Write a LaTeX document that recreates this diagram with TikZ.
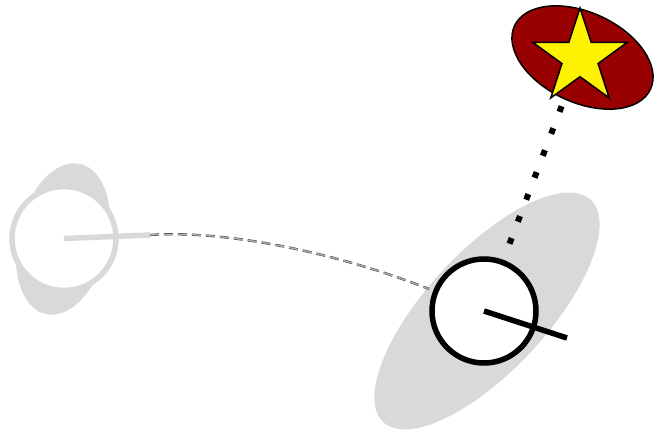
\documentclass[tikz,border=0pt]{standalone}
\usetikzlibrary{shapes.geometric}

\definecolor{blobgray}{RGB}{217,217,217}
\definecolor{darkred}{RGB}{153,0,0}

\tikzset{every picture/.style={line width=0.75pt}}
\tikzset{
  robot/.style={circle, draw, fill=white, inner sep=0pt, minimum size=104pt, line width=5.5pt},
  heading/.style={line width=5.5pt},
  track/.style={draw=black!80, line width=0.45pt, double=blobgray!80!black, double distance=1.4pt, dash pattern=on 9pt off 5pt},
  sight/.style={line width=6pt, dash pattern=on 6pt off 17.5pt, dash phase=22pt}
}

\begin{document}
\begin{tikzpicture}[x=1pt,y=-1pt]
	\useasboundingbox (0,0) rectangle (654,433);

	%Shape: Ellipse [uncertainty old]
	\fill [blobgray] (63,239) ellipse [x radius=77, y radius=45, rotate=77];
	%Shape: Ellipse [uncertainty new]
	\fill [blobgray] (487,311) ellipse [x radius=152, y radius=60, rotate=47];

	\coordinate (oldpos) at (64,238.5);
	\coordinate (newpos) at (484,311);
	\coordinate (oldhead) at (150,235);
	\coordinate (newhead) at (567,338);
	\coordinate (trackend) at (429,289);
	\coordinate (goal) at (580,57.7);

	%Dotted Lines
	\draw [sight] (newpos) -- (goal);
	%Curve Lines
	\draw [track] (oldhead) .. controls (220,230) and (330,250) .. (trackend);

	%Shape: Circle
	\node [robot, draw=blobgray] (oldrobot) at (oldpos) {};
	\node [robot] (newrobot) at (newpos) {};
	%Straight Lines
	\draw [heading, blobgray] (oldrobot.center) -- (oldhead);
	\draw [heading] (newrobot.center) -- (newhead);

	%Shape: Ellipse [goal]
	\draw [fill=darkred, line width=1.5pt] (582.5,57.5) ellipse [x radius=75, y radius=45, rotate=-25];
	%Shape: Star
	\node [star, star points=5, star point ratio=2.618, minimum size=99.4pt, inner sep=0pt, draw, fill=yellow, line width=1.5pt] (star) at (goal) {};
\end{tikzpicture}
\end{document}
